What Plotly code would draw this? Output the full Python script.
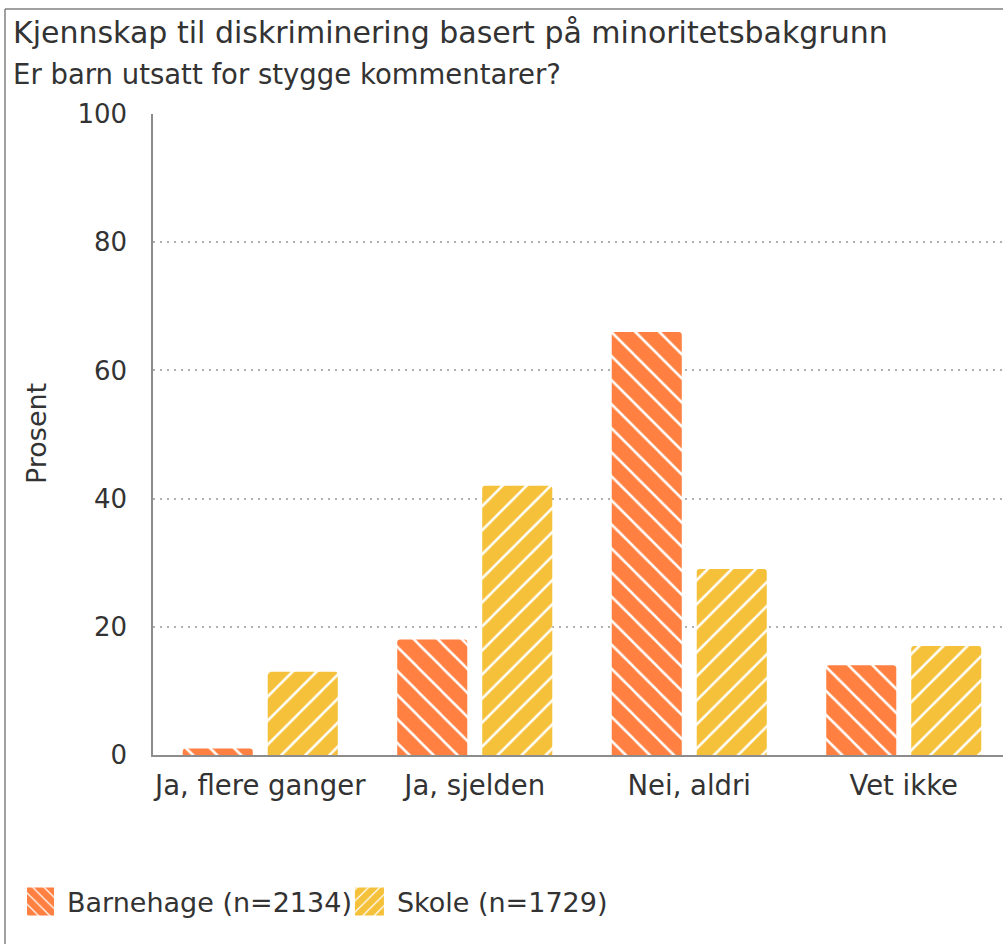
import plotly.graph_objects as go

categories = ["Ja, flere ganger", "Ja, sjelden", "Nei, aldri", "Vet ikke"]
barnehage = [1, 18, 66, 14]
skole = [13, 42, 29, 17]
series_names = ["Barnehage (n=2134)", "Skole (n=1729)"]
y_ticks = [0, 20, 40, 60, 80, 100]

title_text = "Kjennskap til diskriminering basert på minoritetsbakgrunn"
subtitle_text = "Er barn utsatt for stygge kommentarer?"
y_title = "Prosent"

W, H = 1003, 944
FONT = "DejaVu Sans"
TXT = "#333333"

def px_x(p):
    return p / W

def px_y(p):
    return 1 - p / H

fig = go.Figure()
fig.add_trace(go.Bar(
    x=categories, y=barnehage, name=series_names[0],
    marker=dict(color="#ff8040", line=dict(width=0),
                pattern=dict(shape="\\", fgcolor="white", bgcolor="#ff8040",
                             size=17, solidity=0.15, fillmode="replace")),
))
fig.add_trace(go.Bar(
    x=categories, y=skole, name=series_names[1],
    marker=dict(color="#f5c13a", line=dict(width=0),
                pattern=dict(shape="/", fgcolor="white", bgcolor="#f5c13a",
                             size=17, solidity=0.15, fillmode="replace")),
))

plot_left, plot_right, plot_top, plot_bottom = 153, 1003, 114, 755
cat_px = 214.5
n_vis = (plot_right - plot_left) / cat_px

fig.update_layout(
    width=W, height=H,
    margin=dict(l=0, r=0, t=0, b=0),
    paper_bgcolor="white", plot_bgcolor="white",
    barmode="group", bargap=0.2075, bargroupgap=0.176,
    barcornerradius=3,
    font=dict(family=FONT, color=TXT),
    showlegend=True,
    legend=dict(orientation="h", x=px_x(27), xanchor="left",
                y=px_y(902), yanchor="middle",
                font=dict(family=FONT, size=27, color=TXT),
                bgcolor="rgba(0,0,0,0)", itemclick=False, tracegroupgap=0),
    xaxis=dict(
        domain=[px_x(plot_left), px_x(plot_right)],
        type="category", categoryorder="array", categoryarray=categories,
        range=[-0.5, -0.5 + n_vis],
        showline=True, linecolor="#8c8c8c", linewidth=1.5,
        showgrid=False, ticks="", ticklabelstandoff=5,
        tickfont=dict(family=FONT, size=27.5, color=TXT),
        automargin=False, fixedrange=True,
    ),
    yaxis=dict(
        domain=[px_y(plot_bottom), px_y(plot_top)],
        range=[0, 100], tickvals=y_ticks,
        showline=True, linecolor="#8c8c8c", linewidth=1.5,
        showgrid=True, gridcolor="#b0b0b0", gridwidth=1.5, griddash="2px,5px",
        zeroline=False, ticks="", ticklabelstandoff=19,
        tickfont=dict(family=FONT, size=26, color=TXT),
        automargin=False, fixedrange=True,
    ),
    annotations=[
        dict(text=title_text, xref="paper", yref="paper",
             x=px_x(11), y=px_y(32), xanchor="left", yanchor="middle",
             showarrow=False, font=dict(family=FONT, size=30, color=TXT)),
        dict(text=subtitle_text, xref="paper", yref="paper",
             x=px_x(11), y=px_y(74), xanchor="left", yanchor="middle",
             showarrow=False, font=dict(family=FONT, size=27.5, color=TXT)),
        dict(text=y_title, xref="paper", yref="paper",
             x=px_x(36), y=px_y(434), xanchor="center", yanchor="middle",
             textangle=-90, showarrow=False,
             font=dict(family=FONT, size=27, color=TXT)),
    ],
    shapes=[
        dict(type="line", xref="paper", yref="paper",
             x0=px_x(5), x1=1.0, y0=px_y(9), y1=px_y(9),
             line=dict(color="#808080", width=1.5)),
        dict(type="line", xref="paper", yref="paper",
             x0=px_x(5), x1=px_x(5), y0=px_y(9), y1=0,
             line=dict(color="#808080", width=1.5)),
    ],
)

post = """
document.body.style.margin='0';
document.body.style.overflow='hidden';
(function(){
  var gd = document.getElementById('{plot_id}');
  function fix(){
    var ps = gd.querySelectorAll('.legend .legendpoints path');
    ps.forEach(function(p){ p.setAttribute('d', 'M-22,-14H7V14H-22Z'); });
  }
  fix();
  if (gd.on) { gd.on('plotly_afterplot', fix); }
  setTimeout(fix, 50);
})();
"""

fig.write_html("out.html", config={"displayModeBar": False}, post_script=post)
